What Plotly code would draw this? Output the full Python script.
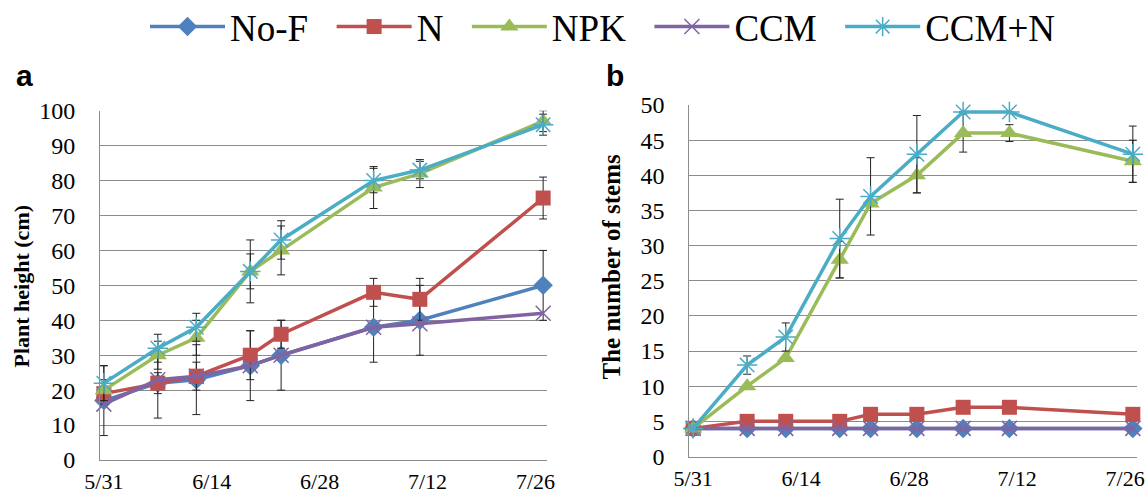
import plotly.graph_objects as go

# ---- data ----
series_names = ["No-F", "N", "NPK", "CCM", "CCM+N"]
colors = ["#4F81BD", "#C0504D", "#9BBB59", "#8064A2", "#4BACC6"]
symbols = ["diamond", "square", "triangle-up", "x-thin-open", "asterisk-open"]

dates_a = ["2014-05-31", "2014-06-07", "2014-06-12", "2014-06-19", "2014-06-23",
           "2014-07-05", "2014-07-11", "2014-07-27"]
height_nof = [17, 22, 23, 27, 30, 38, 40, 50]
height_n = [19, 22, 24, 30, 36, 48, 46, 75]
height_npk = [20, 30, 35, 54, 60, 78, 82, 97]
height_ccm = [16, 23, 24, 27, 30, 38, 39, 42]
height_ccmn = [22, 32, 38, 54, 63, 80, 83, 96]
height_err_nof = [10, 10, 10, 10, 10, 10, 10, 10]
height_err_n = [3, 3, 4, 7, 4, 4, 6, 6]
height_err_npk = [3, 4, 5, 9, 7, 6, 4, 3]
height_err_ccm = [0, 0, 0, 0, 0, 0, 0, 0]
height_err_ccmn = [5, 4, 4, 5, 5.5, 3.5, 2.5, 3]

dates_b = ["2014-05-31", "2014-06-07", "2014-06-12", "2014-06-19", "2014-06-23",
           "2014-06-29", "2014-07-05", "2014-07-11", "2014-07-27"]
stems_nof = [4, 4, 4, 4, 4, 4, 4, 4, 4]
stems_n = [4, 5, 5, 5, 6, 6, 7, 7, 6]
stems_npk = [4, 10, 14, 28, 36, 40, 46, 46, 42]
stems_ccm = [4, 4, 4, 4, 4, 4, 4, 4, 4]
stems_ccmn = [4, 13, 17, 31, 37, 43, 49, 49, 43]
stems_err_nof = [0, 0, 0, 0, 0, 0, 0, 0, 0]
stems_err_n = [0, 0, 0, 0, 0, 0, 0, 0, 0]
stems_err_npk = [0, 0, 0, 2.6, 0, 2.5, 2.7, 1.2, 3]
stems_err_ccm = [0, 0, 0, 0, 0, 0, 0, 0, 0]
stems_err_ccmn = [0, 1.3, 2, 5.6, 5.5, 5.5, 0, 0, 4]

tick_vals = ["2014-05-31", "2014-06-14", "2014-06-28", "2014-07-12", "2014-07-26"]
tick_text = ["5/31", "6/14", "6/28", "7/12", "7/26"]

heights = [height_nof, height_n, height_npk, height_ccm, height_ccmn]
height_errs = [height_err_nof, height_err_n, height_err_npk, height_err_ccm, height_err_ccmn]
stems = [stems_nof, stems_n, stems_npk, stems_ccm, stems_ccmn]
stems_errs = [stems_err_nof, stems_err_n, stems_err_npk, stems_err_ccm, stems_err_ccmn]
marker_sizes = [15, 15, 16, 15, 17]

SERIF = "Liberation Serif"
W, H = 1148, 498
fig = go.Figure()


def marker_for(i):
    if symbols[i].endswith("open"):
        return dict(symbol=symbols[i], size=marker_sizes[i], color=colors[i],
                    line=dict(color=colors[i], width=1.5))
    return dict(symbol=symbols[i], size=marker_sizes[i], color=colors[i],
                line=dict(width=0))


for i, name in enumerate(series_names):
    fig.add_trace(go.Scatter(
        x=dates_a, y=heights[i], name=name + "\u2002", mode="lines+markers",
        line=dict(color=colors[i], width=3.5), marker=marker_for(i),
        error_y=dict(type="data", array=height_errs[i], color="#222222",
                     thickness=1, width=4, visible=any(height_errs[i])),
        xaxis="x", yaxis="y", cliponaxis=False, legendgroup=name, showlegend=True))

for i, name in enumerate(series_names):
    fig.add_trace(go.Scatter(
        x=dates_b, y=stems[i], name=name, mode="lines+markers",
        line=dict(color=colors[i], width=3.5), marker=marker_for(i),
        error_y=dict(type="data", array=stems_errs[i], color="#222222",
                     thickness=1, width=4, visible=any(stems_errs[i])),
        xaxis="x2", yaxis="y2", cliponaxis=False, legendgroup=name, showlegend=False))

xrange = ["2014-05-30 12:00", "2014-07-27 12:00"]
common_x = dict(type="date", range=xrange, tickvals=tick_vals, ticktext=tick_text,
                showgrid=False, showline=True, linecolor="#8c8c8c", linewidth=1,
                ticks="", tickfont=dict(family=SERIF, size=22, color="black"),
                ticklabelstandoff=2, zeroline=False, automargin=False)
common_y = dict(showgrid=True, gridcolor="#8c8c8c", gridwidth=1, showline=True,
                linecolor="#8c8c8c", linewidth=1, ticks="", zeroline=False,
                ticklabelstandoff=19, automargin=False,
                tickfont=dict(family=SERIF, size=24, color="black"))

fig.update_layout(
    width=W, height=H,
    margin=dict(l=0, r=0, t=0, b=0, autoexpand=False),
    paper_bgcolor="white", plot_bgcolor="white",
    xaxis=dict(domain=[100 / W, 547 / W], anchor="y", **common_x),
    yaxis=dict(domain=[(H - 460) / H, (H - 110.7) / H], anchor="x",
               range=[0, 100], dtick=10, **common_y),
    xaxis2=dict(domain=[689.3 / W, 1136.7 / W], anchor="y2", **common_x),
    yaxis2=dict(domain=[(H - 456.5) / H, (H - 105) / H], anchor="x2",
                range=[0, 50], dtick=5, **common_y),
    legend=dict(orientation="h", x=612 / W, xanchor="center", y=1 - 27 / H, yanchor="middle",
                font=dict(family=SERIF, size=37, color="black"), itemwidth=75,
                bgcolor="rgba(0,0,0,0)", tracegroupgap=0),
    showlegend=True,
)

annotations = [
    dict(text="<b>a</b>", x=14 / W, y=1 - 75.5 / H, xref="paper", yref="paper",
         xanchor="left", yanchor="middle", showarrow=False,
         font=dict(family="Liberation Sans", size=30, color="black")),
    dict(text="<b>b</b>", x=604 / W, y=1 - 75.5 / H, xref="paper", yref="paper",
         xanchor="left", yanchor="middle", showarrow=False,
         font=dict(family="Liberation Sans", size=30, color="black")),
    dict(text="<b>Plant height (cm)</b>", x=20.5 / W, y=1 - 286 / H, xref="paper", yref="paper",
         xanchor="center", yanchor="middle", textangle=-90, showarrow=False,
         font=dict(family=SERIF, size=22, color="black")),
    dict(text="<b>The number of stems</b>", x=611 / W, y=1 - 266.5 / H, xref="paper", yref="paper",
         xanchor="center", yanchor="middle", textangle=-90, showarrow=False,
         font=dict(family=SERIF, size=25, color="black")),
]
fig.update_layout(annotations=annotations)

fig.write_html("out.html", config={"displayModeBar": False},
               post_script="document.body.style.margin='0';document.body.style.overflow='hidden';")
